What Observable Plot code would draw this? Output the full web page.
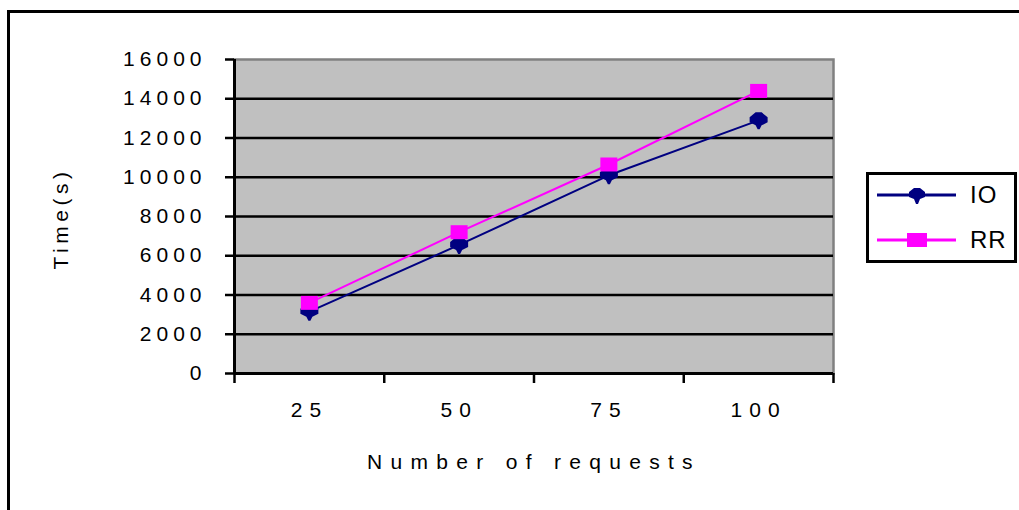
<!DOCTYPE html>
<html>
<head>
<meta charset="utf-8">
<script src="https://cdn.jsdelivr.net/npm/d3@7"></script>
<script src="https://cdn.jsdelivr.net/npm/@observablehq/plot@0.6"></script>
<style>
  body { margin: 0; background: #fff; }
  #wrap { position: relative; width: 1019px; height: 510px; overflow: hidden; font-family: "Liberation Sans", Arial, sans-serif; }
  #border { position: absolute; left: 7px; top: 10px; width: 2000px; height: 2000px; border-top: 3px solid #000; border-left: 3px solid #000; }
  #chart { position: absolute; left: 0; top: 0; }
  #legend { position: absolute; left: 866px; top: 172px; width: 145px; height: 85px; border: 3px solid #000; background: #fff; }
  #legend svg { display: block; }
</style>
</head>
<body>
<div id="wrap">
  <div id="border"></div>
  <div id="chart"></div>
  <div id="legend"></div>
</div>
<script>
// ---- data ----
const categories = ["25", "50", "75", "100"];
const ioTimes = [3150, 6550, 10100, 12900];
const rrTimes = [3600, 7200, 10650, 14400];
const yTicks = [0, 2000, 4000, 6000, 8000, 10000, 12000, 14000, 16000];
const seriesNames = ["IO", "RR"];
const seriesColors = ["#000080", "#ff00ff"];
const xTitle = "Number of requests";
const yTitle = "Time(s)";

// ---- marker shapes ----
function squareSymbol(w, h) {
  return { draw(ctx) { ctx.rect(-w / 2, -h / 2, w, h); } };
}
const diamondSymbol = {
  draw(ctx) {
    ctx.moveTo(-3, -8); ctx.lineTo(3, -8); ctx.lineTo(9, -3); ctx.lineTo(9, 2);
    ctx.lineTo(3, 5); ctx.lineTo(1, 9); ctx.lineTo(-1, 9); ctx.lineTo(-3, 5);
    ctx.lineTo(-9, 2); ctx.lineTo(-9, -3); ctx.closePath();
  }
};
const legendDiamond = {
  draw(ctx) {
    ctx.moveTo(-3, -7); ctx.lineTo(3, -7); ctx.lineTo(8, -3); ctx.lineTo(8, 2);
    ctx.lineTo(3, 4); ctx.lineTo(1, 9); ctx.lineTo(-1, 9); ctx.lineTo(-3, 4);
    ctx.lineTo(-8, 2); ctx.lineTo(-8, -3); ctx.closePath();
  }
};

const ioRows = categories.map((c, i) => ({ pos: i + 0.5, cat: c, time: ioTimes[i] }));
const rrRows = categories.map((c, i) => ({ pos: i + 0.5, cat: c, time: rrTimes[i] }));
const yMax = yTicks[yTicks.length - 1];
const FONT = '"Liberation Sans", Arial, sans-serif';

const chart = Plot.plot({
  width: 1019,
  height: 510,
  marginLeft: 234,
  marginRight: 186,
  marginTop: 59,
  marginBottom: 137,
  x: { domain: [0, categories.length], axis: null },
  y: { domain: [0, yMax], axis: null },
  style: { fontFamily: FONT, background: "transparent", color: "#000" },
  marks: [
    Plot.frame({ fill: "#c0c0c0", stroke: "#808080", strokeWidth: 2.5 }),
    Plot.ruleY(yTicks.filter(t => t > 0 && t < yMax), { stroke: "#000", strokeWidth: 2.5 }),
    Plot.ruleY([0], { stroke: "#000", strokeWidth: 3 }),
    Plot.ruleX([0], { stroke: "#000", strokeWidth: 3 }),
    Plot.axisY({ ticks: yTicks, tickSize: 9, tickPadding: 19, fontSize: 21, strokeWidth: 2.5, label: null,
      tickFormat: d => String(d) }),
    Plot.axisX({ ticks: d3.range(categories.length + 1), tickSize: 10, tickFormat: () => "", strokeWidth: 2.5, label: null }),
    Plot.axisX({ ticks: categories.map((c, i) => i + 0.5), tickSize: 0, tickPadding: 29, fontSize: 21,
      tickFormat: v => categories[Math.floor(v)], label: null }),
    Plot.line(ioRows, { x: "pos", y: "time", stroke: seriesColors[0], strokeWidth: 2 }),
    Plot.dot(ioRows, { x: "pos", y: "time", symbol: diamondSymbol, r: 5, fill: seriesColors[0], stroke: "none" }),
    Plot.line(rrRows, { x: "pos", y: "time", stroke: seriesColors[1], strokeWidth: 2 }),
    Plot.dot(rrRows, { x: "pos", y: "time", symbol: squareSymbol(17, 14), r: 5, fill: seriesColors[1], stroke: "none" }),
    Plot.text([yTitle], { text: d => d, frameAnchor: "left", textAnchor: "middle", lineAnchor: "middle",
      dx: -173, dy: 2, rotate: -90, fontSize: 21 }),
    Plot.text([xTitle], { text: d => d, frameAnchor: "bottom", textAnchor: "middle", lineAnchor: "top", dy: 81, fontSize: 21 })
  ]
});
document.getElementById("chart").appendChild(chart);

// letter spacing to mimic the wide bitmap font
d3.select(chart).selectAll("text").each(function () {
  const t = this.textContent;
  let ls = null;
  if (t === xTitle) ls = 8.3;
  else if (t === yTitle) ls = 4.5;
  else if (this.closest('g[aria-label="x-axis tick label"]')) ls = 7;
  else if (/^\d+$/.test(t)) ls = 5;
  if (ls != null) this.style.letterSpacing = ls + "px";
});

// ---- legend ----
const lg = d3.select("#legend").append("svg").attr("width", 145).attr("height", 85);
const legendSymbols = [legendDiamond, squareSymbol(20, 14)];
const legendY = [20, 65];
seriesNames.forEach((name, i) => {
  const g = lg.append("g");
  g.append("line").attr("x1", 8).attr("x2", 87).attr("y1", legendY[i]).attr("y2", legendY[i])
    .attr("stroke", seriesColors[i]).attr("stroke-width", 3);
  g.append("path").attr("d", d3.symbol(legendSymbols[i])()).attr("transform", `translate(48,${legendY[i]})`)
    .attr("fill", seriesColors[i]);
  g.append("text").attr("x", 101).attr("y", legendY[i] + 8).attr("font-size", 24)
    .attr("font-family", FONT).attr("letter-spacing", 1).text(name);
});
</script>
</body>
</html>
